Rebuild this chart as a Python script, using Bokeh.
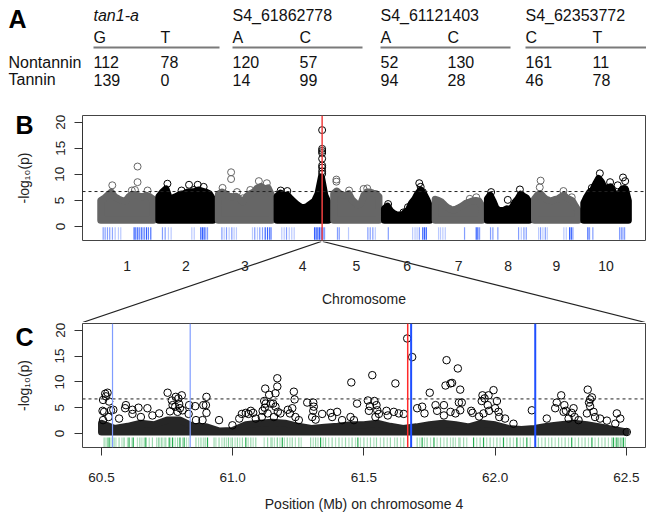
import numpy as np
from bokeh.plotting import figure
from bokeh.models import (Range1d, FixedTicker, PrintfTickFormatter, Span, ColumnDataSource)
from bokeh.layouts import column, row
from bokeh.embed import file_html
from bokeh.resources import INLINE
from bokeh.core.properties import value

FONT = "Liberation Sans"

# ---------------- Panel A: allele counts ----------------
markers = ["tan1-a", "S4_61862778", "S4_61121403", "S4_62353772"]
alleles = [["G", "T"], ["A", "C"], ["A", "C"], ["C", "T"]]
groups = ["Nontannin", "Tannin"]
nontannin_counts = [[112, 78], [120, 57], [52, 130], [161, 11]]
tannin_counts = [[139, 0], [14, 99], [94, 28], [46, 78]]

# ---------------- Panel B: genome-wide scan ----------------
chrom_names = ["1", "2", "3", "4", "5", "6", "7", "8", "9", "10"]
chrom_len = [72, 74, 73, 70, 62, 62, 64, 57, 60, 61]          # Mb
chrom_gap = 7.5
# upper edge of the dense point cloud, 16 equally spaced points per chromosome
env_chr1 = [5.0, 5.4, 6.0, 6.6, 5.7, 5.3, 5.0, 4.8, 5.7, 6.2, 6.1, 5.8, 5.7, 6.0, 5.7, 5.2]
env_chr2 = [5.7, 6.6, 7.2, 5.3, 5.5, 5.8, 6.2, 6.3, 6.6, 6.6, 6.7, 7.0, 6.8, 6.6, 6.3, 5.2]
env_chr3 = [6.2, 6.6, 6.3, 5.8, 5.7, 5.8, 5.2, 4.7, 5.8, 6.3, 6.6, 7.4, 7.7, 7.2, 7.4, 6.0]
env_chr4 = [5.8, 6.4, 6.0, 6.0, 5.3, 4.7, 4.1, 3.7, 3.6, 3.9, 4.4, 4.9, 6.3, 9.5, 6.0, 4.5]
env_chr5 = [6.3, 6.8, 6.3, 6.0, 6.0, 6.3, 5.2, 4.6, 4.1, 4.4, 6.0, 6.6, 6.6, 6.4, 6.3, 5.7]
env_chr6 = [3.4, 3.9, 3.0, 2.5, 2.2, 2.2, 2.2, 2.8, 3.2, 4.5, 5.2, 6.3, 7.0, 6.3, 5.2, 3.8]
env_chr7 = [5.2, 5.0, 4.7, 4.1, 3.6, 3.3, 3.1, 3.4, 3.7, 4.1, 4.5, 4.7, 4.9, 5.0, 4.9, 3.9]
env_chr8 = [5.3, 6.0, 4.9, 3.6, 3.1, 3.0, 3.1, 3.4, 3.2, 3.7, 4.7, 5.3, 6.2, 5.8, 5.5, 4.7]
env_chr9 = [5.3, 6.0, 6.3, 5.7, 5.2, 5.0, 4.9, 5.2, 5.3, 5.7, 6.0, 5.5, 5.2, 4.9, 3.9, 3.0]
env_chr10 = [4.5, 5.7, 6.6, 7.0, 8.2, 9.2, 8.5, 7.2, 7.4, 7.6, 6.6, 5.3, 6.3, 7.2, 7.2, 4.9]
cloud_floor = 1.17

out_chrom = [1, 1, 1, 1, 1, 1, 2, 2, 2, 2, 2, 2, 3, 3, 3, 3, 3, 3, 3, 3, 4, 4,
             4, 4, 4, 4, 4, 4, 4, 4, 4, 5, 5, 5, 5, 5, 6, 6, 6, 6, 6, 6, 7, 7,
             8, 8, 8, 9, 9, 9, 9, 10, 10, 10, 10, 10, 10, 10]
out_pos = [50.4, 50.4, 15.8, 42.5, 64.1, 46.8, 11.8, 31.1, 41.4, 53.3, 61.4, 48.1,
           17.5, 17.5, 5.8, 25.6, 33.6, 55.5, 66.4, 43.8, 4.9, 14.0,
           61.67, 61.67, 61.67, 61.67, 61.67, 61.67, 61.67, 61.67, 61.67,
           3.7, 3.7, 21.1, 40.9, 45.9, 47.7, 49.6, 52.7, 26.0, 32.2, 5.0, 47.4, 56.3,
           5.1, 27.9, 44.5, 8.4, 7.2, 39.6, 51.0, 22.0, 36.0, 53.7, 56.7, 46.4, 55.5, 11.0]
out_val = [11.5, 8.5, 7.9, 6.9, 6.9, 7.0, 8.2, 6.9, 8.0, 8.0, 7.6, 7.0,
           10.4, 9.1, 7.4, 6.6, 5.4, 8.7, 8.3, 7.0, 6.9, 6.8,
           18.5, 14.9, 14.5, 14.1, 13.0, 11.7, 11.3, 10.6, 10.1,
           9.0, 8.6, 6.9, 7.2, 7.3, 8.3, 7.6, 6.6, 2.7, 3.7, 4.3, 5.3, 5.6,
           6.6, 5.1, 7.1, 8.8, 7.5, 6.8, 5.6, 10.2, 8.5, 9.4, 8.7, 7.9, 7.2, 7.4]

# candidate-gene rug (chromosome, Mb, shade)
rug_chrom = [1]*17 + [2]*11 + [3]*16 + [4]*13 + [5]*7 + [6]*8 + [7]*8 + [8]*7 + [9]*10 + [10]*7
rug_pos = [3.3, 6.0, 9.2, 12.3, 16.0, 19.7, 24.2, 27.4, 45.7, 48.0, 50.7, 53.4, 56.2, 59.4, 62.6, 65.3, 68.5,
           5.0, 8.7, 13.2, 16.9, 45.2, 48.5, 57.5, 59.8, 62.1, 64.3, 66.7,
           4.9, 8.0, 11.2, 14.8, 18.5, 21.6, 24.8, 46.8, 49.9, 53.6, 56.8, 60.5, 64.2, 67.4, 70.5, 72.5,
           6.4, 9.7, 12.9, 16.6, 20.1, 23.4, 51.3, 53.5, 55.8, 58.1, 60.4, 62.7, 65.0,
           5.2, 7.6, 20.3, 46.8, 50.0, 53.6, 57.0,
           5.3, 38.6, 41.9, 44.7, 47.8, 52.5, 54.9, 57.3,
           4.6, 7.3, 10.5, 13.8, 40.2, 56.2, 58.4, 60.8,
           4.3, 7.5, 14.3, 42.7, 46.4, 50.0, 53.2,
           5.6, 8.3, 11.5, 14.8, 17.5, 40.2, 43.5, 48.1, 50.4, 52.6,
           5.6, 7.9, 12.4, 49.0, 51.4, 53.6, 55.9]
rug_alpha = [0.55, 0.55, 0.55, 0.55, 0.5, 0.35, 0.3, 0.3, 0.9, 0.8, 0.9, 0.7, 0.9, 0.8, 0.9, 0.7, 0.8,
             0.55, 0.55, 0.3, 0.3, 0.3, 0.3, 0.9, 0.9, 0.9, 0.55, 0.55,
             0.55, 0.3, 0.55, 0.3, 0.55, 0.3, 0.3, 0.3, 0.55, 0.3, 0.55, 0.55, 0.9, 0.9, 0.9, 0.55,
             0.3, 0.3, 0.55, 0.3, 0.3, 0.3, 0.9, 0.9, 0.9, 0.9, 0.9, 0.9, 0.55,
             0.55, 0.55, 0.3, 0.55, 0.55, 0.55, 0.3,
             0.55, 0.3, 0.3, 0.3, 0.55, 0.9, 0.9, 0.9,
             0.3, 0.3, 0.3, 0.3, 0.55, 0.9, 0.9, 0.55,
             0.55, 0.55, 0.55, 0.55, 0.3, 0.55, 0.55,
             0.3, 0.55, 0.3, 0.55, 0.3, 0.3, 0.3, 0.9, 0.9, 0.55,
             0.9, 0.55, 0.55, 0.55, 0.55, 0.55, 0.55]
tan1_chrom = 4
tan1_pos = 61.67
threshold = 6.7

# ---------------- Panel C: chromosome 4, 60.4-62.6 Mb ----------------
c_pos = [60.506, 60.514, 60.523, 60.517, 60.529, 60.504, 60.510, 60.536, 60.527, 60.506,
         60.545, 60.567, 60.593, 60.590, 60.618, 60.641, 60.675, 60.618, 60.650, 60.694,
         60.720, 60.752, 60.761, 60.768, 60.771, 60.783, 60.793, 60.806, 60.796, 60.799,
         60.790, 60.781, 60.809, 60.834, 60.832, 60.857, 60.888, 60.900, 60.898, 60.900,
         60.860, 60.885, 60.948, 60.999, 61.025, 61.035, 61.050, 61.060, 61.069, 61.078,
         61.088, 61.114, 61.120, 61.124, 61.126, 61.122, 61.139, 61.145, 61.133, 61.111,
         61.170, 61.170, 61.163, 61.154, 61.163, 61.172, 61.182, 61.157, 61.233, 61.236,
         61.227, 61.210, 61.218, 61.239, 61.252, 61.284, 61.307, 61.309, 61.307, 61.303,
         61.316, 61.341, 61.373, 61.398, 61.379, 61.417, 61.452, 61.474, 61.449, 61.462,
         61.515, 61.523, 61.519, 61.532, 61.540, 61.548, 61.551, 61.557, 61.544, 61.586,
         61.591, 61.620, 61.614, 61.633, 61.652, 61.665, 61.684, 61.703, 61.722, 61.731,
         61.751, 61.773, 61.779, 61.805, 61.811, 61.815, 61.830, 61.836, 61.858, 61.862,
         61.805, 61.830, 61.849,
         61.867, 61.873, 61.867, 61.952, 61.960, 61.949, 61.975, 61.994, 61.972, 61.977,
         62.007, 62.000, 61.909, 61.914, 61.939, 61.956, 62.013, 62.016, 62.038, 62.070,
         62.140, 62.197, 62.229, 62.235, 62.252, 62.264, 62.270, 62.261, 62.292, 62.299,
         62.303, 62.280, 62.318, 62.350, 62.353, 62.362, 62.369, 62.358, 62.362, 62.375,
         62.381, 62.400, 62.426, 62.464, 62.477, 62.458, 62.502]
c_val = [6.5, 7.7, 7.9, 7.2, 6.2, 4.4, 4.2, 4.5, 3.2, 2.6,
         4.6, 2.9, 5.5, 4.9, 4.6, 5.0, 4.9, 3.8, 3.2, 3.5,
         3.9, 7.9, 4.3, 6.4, 5.5, 7.1, 6.8, 7.4, 5.7, 4.9,
         4.2, 5.2, 4.5, 5.5, 3.8, 5.3, 5.5, 7.1, 5.5, 4.0,
         2.6, 2.6, 2.6, 1.6, 2.9, 3.8, 4.0, 3.8, 4.4, 4.0,
         2.9, 4.4, 6.3, 8.7, 5.8, 5.0, 7.5, 5.8, 3.9, 3.2,
         10.7, 9.1, 7.8, 5.8, 5.2, 4.2, 3.9, 3.2, 8.1, 6.6,
         4.9, 4.6, 3.9, 3.2, 2.6, 6.0, 6.0, 5.2, 4.4, 3.2,
         2.7, 3.8, 4.0, 4.2, 3.2, 2.6, 9.9, 5.8, 3.2, 2.6,
         6.4, 5.3, 4.4, 11.3, 6.3, 5.5, 4.5, 3.8, 3.2, 4.4,
         3.5, 9.7, 4.2, 3.9, 3.8, 18.4, 14.8, 4.9, 5.2, 3.9,
         7.9, 5.5, 4.4, 3.5, 9.3, 14.2, 9.7, 9.8, 12.6, 6.0,
         5.5, 4.2, 3.9,
         8.5, 6.0, 4.5, 7.4, 6.8, 6.3, 7.4, 8.4, 5.5, 4.4,
         6.3, 4.9, 4.4, 4.0, 3.3, 3.9, 4.2, 3.2, 2.9, 1.9,
         4.5, 2.9, 4.9, 6.0, 7.4, 5.5, 4.4, 4.2, 4.0, 4.9,
         3.2, 2.9, 2.6, 3.9, 8.5, 6.6, 7.0, 6.0, 5.3, 4.2,
         3.2, 2.9, 2.5, 3.9, 2.9, 1.9, 0.3]
# upper edge of the dense low band of SNPs
band_pos = [60.50, 60.55, 60.60, 60.65, 60.70, 60.75, 60.80, 60.85, 60.90, 60.95,
            61.00, 61.05, 61.10, 61.15, 61.20, 61.25, 61.30, 61.35, 61.40, 61.45,
            61.50, 61.55, 61.60, 61.65, 61.70, 61.75, 61.80, 61.85, 61.90, 61.95,
            62.00, 62.05, 62.10, 62.15, 62.20, 62.25, 62.30, 62.35, 62.40, 62.45, 62.50]
band_top = [2.0, 1.0, 1.4, 2.0, 1.7, 2.6, 2.6, 1.4, 1.3, 0.5,
            0.6, 1.7, 2.0, 2.2, 2.0, 1.4, 1.0, 1.2, 1.4, 1.7,
            1.7, 2.0, 1.4, 1.0, 1.3, 1.7, 2.0, 1.7, 1.3, 2.0,
            1.7, 1.0, 0.8, 1.0, 1.4, 1.7, 2.0, 1.7, 1.3, 0.8, 0.3]
band_floor = 0.3
gene_pos = [60.510, 60.517, 60.523, 60.529, 60.536, 60.548, 60.555, 60.567, 60.578, 60.586,
            60.599, 60.605, 60.616, 60.621, 60.637, 60.646, 60.654, 60.663, 60.669, 60.682,
            60.694, 60.710, 60.717, 60.722, 60.730, 60.739, 60.745, 60.758, 60.764, 60.771,
            60.781, 60.790, 60.799, 60.809, 60.815, 60.824, 60.832, 60.860, 60.870, 60.879,
            60.888, 60.895, 60.904, 60.929, 60.936, 60.948, 60.959, 60.968, 60.976, 60.984,
            60.993, 60.999, 61.009, 61.018, 61.027, 61.037, 61.050, 61.059, 61.069, 61.078,
            61.088, 61.120, 61.133, 61.145,
            61.150, 61.159, 61.170, 61.180, 61.189, 61.197, 61.208, 61.218, 61.227, 61.239,
            61.252, 61.261, 61.297, 61.307, 61.316, 61.325, 61.335, 61.345, 61.354, 61.366,
            61.379, 61.392, 61.405, 61.417, 61.430, 61.443, 61.455, 61.468, 61.477, 61.487,
            61.500, 61.513, 61.525, 61.538, 61.548, 61.563, 61.576, 61.589, 61.601, 61.617,
            61.627, 61.640, 61.652, 61.703, 61.713, 61.722, 61.731, 61.741, 61.754, 61.767,
            61.779, 61.792, 61.805, 61.817, 61.830, 61.840, 61.849, 61.862,
            61.867, 61.880, 61.892, 61.918, 61.930, 61.943, 61.956, 61.968, 61.981, 61.994,
            62.007, 62.019, 62.032, 62.045, 62.057, 62.070, 62.083, 62.096, 62.108, 62.121,
            62.134, 62.165, 62.178, 62.191, 62.204, 62.216, 62.229, 62.242, 62.254, 62.267,
            62.280, 62.292, 62.305, 62.318, 62.331, 62.343, 62.356, 62.369, 62.381, 62.394,
            62.407, 62.419, 62.432, 62.445, 62.451, 62.458, 62.464, 62.470, 62.477, 62.483,
            62.489, 62.496]
gene_alpha = [0.4, 0.3, 0.4, 0.85, 0.3, 0.4, 0.3, 0.4, 0.3, 0.5,
              0.3, 0.85, 0.3, 0.85, 0.3, 0.4, 0.3, 0.4, 0.85, 0.3,
              0.4, 0.3, 0.4, 0.3, 0.5, 0.3, 0.4, 0.85, 0.3, 0.85,
              0.3, 0.4, 0.85, 0.3, 0.85, 0.3, 0.2, 0.4, 0.3, 0.4,
              0.3, 0.4, 0.85, 0.4, 0.3, 0.4, 0.3, 0.4, 0.3, 0.5,
              0.3, 0.4, 0.3, 0.4, 0.3, 0.4, 0.85, 0.3, 0.4, 0.3,
              0.4, 0.3, 0.4, 0.3,
              0.4, 0.3, 0.5, 0.3, 0.85, 0.3, 0.4, 0.3, 0.4, 0.3,
              0.4, 0.3, 0.4, 0.3, 0.4, 0.3, 0.85, 0.3, 0.4, 0.3,
              0.4, 0.3, 0.4, 0.3, 0.4, 0.3, 0.4, 0.3, 0.85, 0.3,
              0.4, 0.3, 0.4, 0.3, 0.4, 0.3, 0.4, 0.3, 0.4, 0.3,
              0.4, 0.3, 0.4, 0.4, 0.3, 0.85, 0.3, 0.4, 0.3, 0.85,
              0.3, 0.4, 0.3, 0.4, 0.3, 0.4, 0.3, 0.4,
              0.3, 0.4, 0.3, 0.85, 0.3, 0.4, 0.85, 0.3, 0.4, 0.3,
              0.4, 0.3, 0.85, 0.3, 0.4, 0.3, 0.85, 0.3, 0.4, 0.85,
              0.3, 0.4, 0.3, 0.4, 0.3, 0.4, 0.3, 0.4, 0.3, 0.4,
              0.3, 0.85, 0.3, 0.4, 0.3, 0.4, 0.3, 0.85, 0.3, 0.4,
              0.3, 0.4, 0.3, 0.4, 0.85, 0.3, 0.85, 0.4, 0.5, 0.4,
              0.85, 0.4]
snp_light = [60.542, 60.838]
snp_strong = [61.680, 62.153]
tan1_line = 61.667
c_ticks = [60.5, 61.0, 61.5, 62.0, 62.5]

# ---------------- layout constants (canvas pixels from the top-left corner) ----------------
W = 646
LW = 46                 # left strip holding panel letter + y label
BORDER_L = 36           # frame starts at x = 82
YMIN, YMAX = -2.7, 21.3
B_X = (-25.0, 746.0)
C_X = (60.4276, 62.5732)
AX_COL = "#333333"
TXT_COL = "#222222"
GRAY = "#666666"
A_TOP, A_BOT = 0, 110
B_TOP, B_BOT = 110, 241
K_TOP, K_BOT = 241, 322
C_TOP, C_BOT = 322, 515
B_FRAME = (115, 240)
C_FRAME = (323, 447)

base = dict(output_backend="svg", toolbar_location=None, frame_align=False, title=None)


def blank(width, height, xr, yr, **kw):
    p = figure(width=width, height=height, x_range=xr, y_range=yr,
               x_axis_location=None, y_axis_location=None, outline_line_color=None,
               min_border_left=kw.pop("min_border_left", 0),
               min_border_right=kw.pop("min_border_right", 0),
               min_border_top=0, min_border_bottom=0, **base)
    p.grid.visible = False
    return p


def style_y(p):
    ya = p.yaxis[0]
    ya.ticker = FixedTicker(ticks=[0, 5, 10, 15, 20])
    ya.bounds = (0, 20)
    ya.major_label_orientation = "vertical"
    ya.major_tick_out = 8
    ya.major_tick_in = 0
    ya.minor_tick_out = 0
    ya.minor_tick_in = 0
    ya.major_label_standoff = 10
    ya.axis_line_color = AX_COL
    ya.major_tick_line_color = AX_COL
    ya.major_label_text_font = FONT
    ya.major_label_text_font_size = "13.5px"
    ya.major_label_text_color = TXT_COL
    p.grid.visible = False
    p.outline_line_color = "#444444"
    p.outline_line_width = 1


def side_strip(top, bot, letter, letter_y, frame_mid):
    p = blank(LW, bot - top, Range1d(0, LW), Range1d(-bot, -top))
    p.text(x=[15], y=[-letter_y], text=[letter], text_font=value(FONT), text_font_size="25px",
           text_font_style="bold", text_baseline="middle", text_align="left", text_color="#000000")
    p.text(x=[23], y=[-frame_mid], text=["-log\u2081\u2080(p)"], angle=np.pi / 2,
           text_font=value(FONT), text_font_size="14px", text_baseline="middle",
           text_align="center", text_color=TXT_COL)
    return p


# ---------------- Panel A figure ----------------
pA = blank(W, A_BOT - A_TOP, Range1d(0, W), Range1d(A_BOT, A_TOP))
block_x = [93, 232, 380, 525]
col_dx = 67
rule_w = [126, 130, 130, 121]
row_y = {"head": 15, "allele": 37, "rule": 47, "g0": 61.5, "g1": 79}
txt = dict(text_font=value(FONT), text_font_size="16px", text_baseline="middle",
           text_align="left", text_color="#111111")
pA.text(x=[block_x[0]], y=[row_y["head"]], text=[markers[0]], text_font_style="italic", **txt)
pA.text(x=block_x[1:], y=[row_y["head"]] * 3, text=markers[1:], **txt)
ax_, ay_, at_ = [], [], []
for i, pair in enumerate(alleles):
    for j, a in enumerate(pair):
        ax_.append(block_x[i] + j * col_dx)
        ay_.append(row_y["allele"])
        at_.append(a)
for gi, counts in enumerate([nontannin_counts, tannin_counts]):
    for i, pair in enumerate(counts):
        for j, c in enumerate(pair):
            ax_.append(block_x[i] + j * col_dx)
            ay_.append(row_y["g%d" % gi])
            at_.append(str(c))
pA.text(x=ax_, y=ay_, text=at_, **txt)
pA.text(x=[8, 8], y=[row_y["g0"], row_y["g1"]], text=groups, **txt)
pA.segment(x0=block_x, y0=[row_y["rule"]] * 4,
           x1=[b + w for b, w in zip(block_x, rule_w)], y1=[row_y["rule"]] * 4,
           line_color="#7a7a7a", line_width=2)
pA.text(x=[8], y=[18.5], text=["A"], text_font=value(FONT), text_font_size="25px",
        text_font_style="bold", text_baseline="middle", text_color="#000000")

# ---------------- Panel B figure ----------------
pB = figure(width=W - LW, height=B_BOT - B_TOP, x_range=Range1d(*B_X), y_range=Range1d(YMIN, YMAX),
            min_border_left=BORDER_L, min_border_right=1, min_border_top=B_FRAME[0] - B_TOP,
            min_border_bottom=B_BOT - B_FRAME[1], x_axis_location=None, **base)
style_y(pB)

chrom_offset = []
acc = 0.0
for L in chrom_len:
    chrom_offset.append(acc)
    acc += L + chrom_gap
envs = [env_chr1, env_chr2, env_chr3, env_chr4, env_chr5,
        env_chr6, env_chr7, env_chr8, env_chr9, env_chr10]
chrom_col = [GRAY if i % 2 == 0 else "#000000" for i in range(10)]

for i in range(10):
    xs = chrom_offset[i] + np.linspace(0, chrom_len[i], len(envs[i]))
    px = [xs[0]] + list(xs) + [xs[-1]]
    py = [cloud_floor] + list(envs[i]) + [cloud_floor]
    pB.patch(px, py, fill_color=chrom_col[i], line_color=chrom_col[i],
             line_width=7, line_join="round")

osrc = ColumnDataSource(dict(
    x=[chrom_offset[c - 1] + p for c, p in zip(out_chrom, out_pos)],
    y=out_val,
    col=[chrom_col[c - 1] for c in out_chrom]))
pB.scatter("x", "y", source=osrc, marker="circle", size=7, fill_color=None,
           line_color="col", line_width=1)

rsrc = ColumnDataSource(dict(
    x=[chrom_offset[c - 1] + p for c, p in zip(rug_chrom, rug_pos)],
    a=rug_alpha))
pB.segment(x0="x", y0=-0.15, x1="x", y1=-2.55, source=rsrc, line_color="#1f4fff",
           line_alpha="a", line_width=1.2)

pB.add_layout(Span(location=threshold, dimension="width", line_color=TXT_COL,
                   line_dash="3 3", line_width=1))
c4 = chrom_offset[tan1_chrom - 1]
pB.add_layout(Span(location=c4 + tan1_pos, dimension="height", line_color="#f04040",
                   line_width=1.5))

sideB = side_strip(B_TOP, B_BOT, "B", 124, sum(B_FRAME) / 2)

# ---------------- connector strip: chromosome labels, axis title, zoom lines ----------------
pK = blank(W, K_BOT - K_TOP, Range1d(*B_X), Range1d(K_BOT, K_TOP),
           min_border_left=LW + BORDER_L, min_border_right=1)
centers = [chrom_offset[i] + chrom_len[i] / 2 for i in range(10)]
pK.text(x=centers, y=[265] * 10, text=chrom_names, text_font=value(FONT), text_font_size="14px",
        text_baseline="middle", text_align="center", text_color=TXT_COL)
pK.text(x=[(B_X[0] + B_X[1]) / 2], y=[298], text=["Chromosome"], text_font=value(FONT),
        text_font_size="14px", text_baseline="middle", text_align="center", text_color=TXT_COL)
pK.segment(x0=[c4 + C_X[0], c4 + C_X[1]], y0=[K_TOP, K_TOP],
           x1=[B_X[0], B_X[1]], y1=[K_BOT, K_BOT], line_color=TXT_COL, line_width=1.2)

# ---------------- Panel C figure ----------------
pC = figure(width=W - LW, height=C_BOT - C_TOP, x_range=Range1d(*C_X), y_range=Range1d(YMIN, YMAX),
            min_border_left=BORDER_L, min_border_right=1, min_border_top=C_FRAME[0] - C_TOP,
            min_border_bottom=C_BOT - C_FRAME[1], **base)
style_y(pC)

gsrc = ColumnDataSource(dict(x=gene_pos, a=gene_alpha))
pC.segment(x0="x", y0=-0.75, x1="x", y1=YMIN, source=gsrc, line_color="#00a032",
           line_alpha="a", line_width=1.2)

bx = [band_pos[0]] + band_pos + [band_pos[-1]]
by = [band_floor] + band_top + [band_floor]
pC.patch(bx, by, fill_color="#262626", line_color="#262626", line_width=7, line_join="round")

pC.scatter(c_pos, c_val, marker="circle", size=7.5, fill_color=None,
           line_color="#000000", line_width=1)

pC.add_layout(Span(location=threshold, dimension="width", line_color=TXT_COL,
                   line_dash="3 3", line_width=1))
for s in snp_light:
    pC.add_layout(Span(location=s, dimension="height", line_color="#7f9cff", line_width=1.2))
for s in snp_strong:
    pC.add_layout(Span(location=s, dimension="height", line_color="#1f4fff", line_width=2))
pC.add_layout(Span(location=tan1_line, dimension="height", line_color="#ff2a2a", line_width=1.5))

cx = pC.xaxis[0]
cx.ticker = FixedTicker(ticks=c_ticks)
cx.formatter = PrintfTickFormatter(format="%.1f")
cx.bounds = (c_ticks[0], c_ticks[-1])
cx.major_tick_out = 8
cx.major_tick_in = 0
cx.minor_tick_out = 0
cx.minor_tick_in = 0
cx.axis_line_color = AX_COL
cx.major_tick_line_color = AX_COL
cx.major_label_standoff = 17
cx.major_label_text_font = FONT
cx.major_label_text_font_size = "13.5px"
cx.major_label_text_color = TXT_COL
cx.axis_label = "Position (Mb) on chromosome 4"
cx.axis_label_text_font = FONT
cx.axis_label_text_font_style = "normal"
cx.axis_label_text_font_size = "14px"
cx.axis_label_text_color = TXT_COL
cx.axis_label_standoff = 11

sideC = side_strip(C_TOP, C_BOT, "C", 336, sum(C_FRAME) / 2)

page = column(pA, row(sideB, pB, spacing=0), pK, row(sideC, pC, spacing=0), spacing=0)
open("out.html", "w").write(file_html(page, INLINE))
